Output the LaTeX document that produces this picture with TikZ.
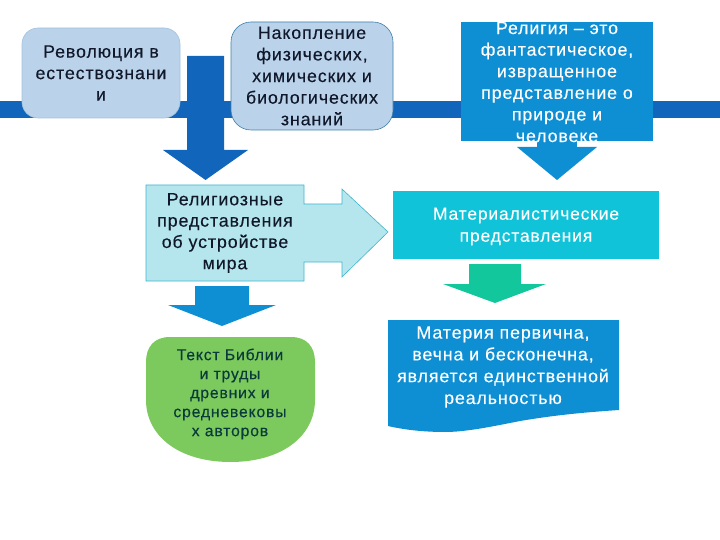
\documentclass[tikz,border=0pt]{standalone}
\usepackage{fontspec}
\setmainfont[LetterSpace=5,FakeBold=0.25]{Liberation Sans}
\definecolor{band}{HTML}{1166BB}
\definecolor{pale}{HTML}{BAD3EB}
\definecolor{paleedge}{HTML}{3F7FA8}
\definecolor{midblue}{HTML}{0F8FD3}
\definecolor{cyanbox}{HTML}{10C3D9}
\definecolor{teal}{HTML}{12C79B}
\definecolor{aqua}{HTML}{B5E6EE}
\definecolor{aquaedge}{HTML}{3FB3CC}
\definecolor{leaf}{HTML}{7CC95E}
\definecolor{inkdark}{HTML}{10182A}
\definecolor{inkgreen}{HTML}{0B3A3A}
\tikzset{
  x=1pt,y=-1pt,
  lbl/.style 2 args={align=center,inner sep=0pt,font=\fontsize{#1}{#2}\selectfont},
}
\begin{document}
\begin{tikzpicture}
\useasboundingbox (0,0) rectangle (720,540);
% band
\fill[band] (0,101) rectangle (720,118);
% box 1
\draw[fill=pale,draw=pale!80!paleedge,line width=.6pt,rounded corners=16pt] (22,28) rectangle (180,118);
\node[lbl={17.8}{21.5},text=inkdark] (t1) at (101,73) {Революция в\\естествознани\\и};
% arrow 1
\fill[band] (187,56) -- (224,56) -- (224,150) -- (248,150) -- (205.5,180) -- (163,150) -- (187,150) -- cycle;
% box 2
\draw[fill=pale,draw=paleedge,line width=.6pt,rounded corners=20pt] (231,22) rectangle (393,130);
\node[lbl={17.8}{21.6},text=inkdark] (t2) at (312,76) {Накопление\\физических,\\химических и\\биологических\\знаний};
% box 3 with arrow
\fill[midblue] (461,22) rectangle (653,141);
\fill[midblue] (537,141) rectangle (577,148);
\fill[midblue] (517,147) -- (597,147) -- (557,180) -- cycle;
\node[lbl={17.8}{21.6},text=white] (t3) at (557,82) {Религия – это\\фантастическое,\\извращенное\\представление о\\природе и\\человеке};
% materialist
\fill[cyanbox] (393,191) rectangle (659,259);
\node[lbl={17.4}{22},text=white] (t4) at (526,226.5) {Материалистические\\представления};
% green arrow
\fill[teal] (469,264) -- (521,264) -- (521,284) -- (546,284) -- (495,303) -- (443,284) -- (469,284) -- cycle;
% callout
\draw[fill=aqua,draw=aquaedge,line width=.6pt] (146,185) -- (304,185) -- (304,204) -- (342,204) -- (342,189) -- (388,232) -- (342,277) -- (342,262) -- (304,262) -- (304,281) -- (146,281) -- cycle;
\node[lbl={17.8}{21.3},text=inkdark] (t5) at (225,233) {Религиозные\\представления\\об устройстве\\мира};
% blue arrow
\fill[midblue] (195,286) -- (249,286) -- (249,305) -- (276,305) -- (222,326) -- (168,305) -- (195,305) -- cycle;
% green box
\fill[leaf] (170,337) -- (291,337) .. controls (307,337) and (315,347) .. (315,362) -- (315,400)
  .. controls (315,436) and (282,462) .. (230.5,462) .. controls (179,462) and (146,436) .. (146,400) -- (146,362)
  .. controls (146,347) and (154,337) .. (170,337) -- cycle;
\node[lbl={15.8}{19},text=inkgreen] (t6) at (230,394) {Текст Библии\\и труды\\древних и\\средневековы\\х авторов};
% wave
\fill[midblue] (388,320) -- (619,320) -- (619,410) .. controls (575,413) and (550,416) .. (520,421)
  .. controls (490,427) and (465,432) .. (445,432) .. controls (425,432) and (405,430) .. (388,426) -- cycle;
\node[lbl={17.8}{21.8},text=white] (t7) at (503,367) {Материя первична,\\вечна и бесконечна,\\является единственной\\реальностью};
\end{tikzpicture}
\end{document}
